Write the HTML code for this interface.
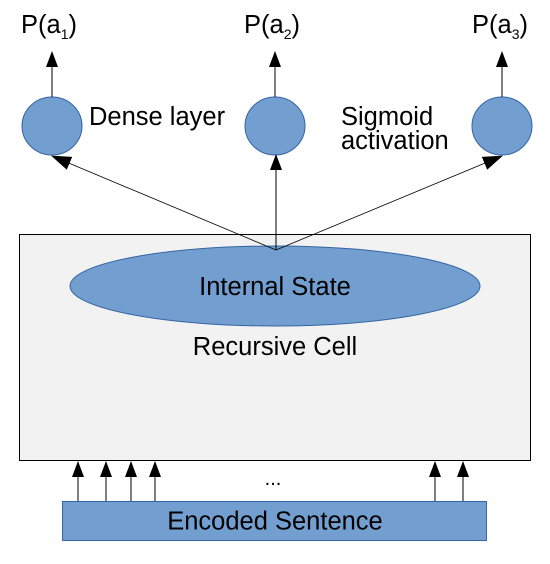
<!DOCTYPE html>
<html><head><style>body{margin:0;background:#fff}</style></head><body>
<svg width="550" height="559" xmlns="http://www.w3.org/2000/svg" font-family="Liberation Sans, sans-serif">
<defs><marker id="a" markerWidth="16" markerHeight="12" refX="15" refY="6" orient="auto" markerUnits="userSpaceOnUse" viewBox="0 0 16 12"><path d="M0,0L16,6L0,12z" fill="#000"/></marker>
<marker id="b" markerWidth="20" markerHeight="14" refX="19" refY="7" orient="auto" markerUnits="userSpaceOnUse" viewBox="0 0 20 14"><path d="M0,0L20,7L0,14z" fill="#000"/></marker></defs>
<rect x="19.5" y="234.5" width="511" height="226" fill="#f2f2f2" stroke="#000"/>
<ellipse cx="275" cy="286" rx="205" ry="40" fill="#729fcf" stroke="#3465a4"/>
<text x="275" y="295" font-size="25.5" text-anchor="middle">Internal State</text>
<text x="275" y="355" font-size="25.5" text-anchor="middle">Recursive Cell</text>
<g fill="#729fcf" stroke="#3465a4"><ellipse cx="52" cy="126" rx="30" ry="29"/><ellipse cx="275" cy="126" rx="30" ry="29"/><ellipse cx="502" cy="126" rx="30" ry="29"/></g>
<g stroke="#000" stroke-width="1">
<line x1="52" y1="97" x2="52" y2="52" marker-end="url(#a)"/>
<line x1="275" y1="97" x2="275" y2="52" marker-end="url(#a)"/>
<line x1="502" y1="97" x2="502" y2="52" marker-end="url(#a)"/>
<line x1="276" y1="250" x2="52" y2="156" stroke-width="0.8" marker-end="url(#b)"/>
<line x1="276" y1="250" x2="276" y2="155" marker-end="url(#a)"/>
<line x1="276" y1="250" x2="502" y2="156" stroke-width="0.8" marker-end="url(#b)"/>
<line x1="78" y1="501" x2="78" y2="462" marker-end="url(#a)"/>
<line x1="106" y1="501" x2="106" y2="462" marker-end="url(#a)"/>
<line x1="131" y1="501" x2="131" y2="462" marker-end="url(#a)"/>
<line x1="155" y1="501" x2="155" y2="462" marker-end="url(#a)"/>
<line x1="435" y1="501" x2="435" y2="462" marker-end="url(#a)"/>
<line x1="463" y1="501" x2="463" y2="462" marker-end="url(#a)"/>
</g>
<g font-size="25.5">
<text x="21" y="33">P(a<tspan font-size="14" dy="6">1</tspan><tspan dy="-6">)</tspan></text>
<text x="244" y="33">P(a<tspan font-size="14" dy="6">2</tspan><tspan dy="-6">)</tspan></text>
<text x="472" y="33">P(a<tspan font-size="14" dy="6">3</tspan><tspan dy="-6">)</tspan></text>
<text x="89" y="125">Dense layer</text>
<text x="341" y="125">Sigmoid</text>
<text x="341" y="149">activation</text>
</g>
<text x="273" y="485" font-size="20" text-anchor="middle">...</text>
<rect x="62.5" y="501.5" width="424" height="39" fill="#729fcf" stroke="#3465a4"/>
<text x="275" y="523" font-size="25.5" text-anchor="middle" dominant-baseline="middle">Encoded Sentence</text>
</svg>
</body></html>
